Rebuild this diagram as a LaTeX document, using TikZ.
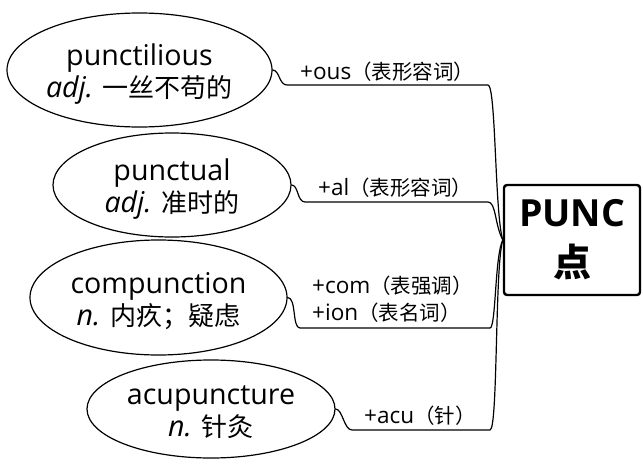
\documentclass[tikz,border=0pt]{standalone}
\usepackage{fontspec}
\setmainfont[Scale=1.1]{Open Sans}
\newfontfamily\cjk{Noto Sans CJK SC}
\usetikzlibrary{shapes.geometric,positioning}
\tikzset{
  every node/.style={inner sep=0pt},
  word/.style={ellipse, draw, line width=1.2pt, align=center,
    text height=62pt, text depth=7pt, font=\fontsize{26}{32}\selectfont},
  root/.style={draw, line width=2.4pt, rounded corners=3pt, align=center,
    minimum width=136, minimum height=110, font=\fontsize{34}{50}\selectfont\bfseries},
  affix/.style={anchor=base west, align=left, font=\fontsize{20.5}{27}\selectfont},
  link/.style={line width=1.2pt, line cap=round, line join=round}
}

\begin{document}
\begin{tikzpicture}[x=1pt,y=-1pt]
  \useasboundingbox (0,0) rectangle (643,469);

  % the root
  \node[root] (punc) at (572,240) {PUNC\\{\cjk\fontsize{38}{50}\selectfont 点}};

  % the words
  \node[word, minimum width=265, minimum height=114] (tilious) at (139.5,70)
    {punctilious\\\textit{adj.} {\cjk 一丝不苟的}};
  \node[word, minimum width=238, minimum height=104] (tual) at (172,185)
    {punctual\\\textit{adj.} {\cjk 准时的}};
  \node[word, minimum width=257, minimum height=115] (compunc) at (158.5,297.5)
    {compunction\\\textit{n.} {\cjk 内疚；疑虑}};
  \node[word, minimum width=248, minimum height=98] (acu) at (211,409)
    {acupuncture\\\textit{n.} {\cjk 针灸}};

  % branch ends
  \coordinate (s1) at (287,85);  \coordinate (t1) at (488,85);
  \coordinate (s2) at (305,202); \coordinate (t2) at (488,202);
  \coordinate (s3) at (300,328); \coordinate (t3) at (490,328);
  \coordinate (s4) at (352,430); \coordinate (t4) at (490,430);

  \draw[link] (tilious.east) .. controls +(7,0) and +(-8,0) .. (s1) -- (t1)
    .. controls +(8,0) and +(-8,-25) .. (punc.west);
  \draw[link] (tual.east) .. controls +(7,0) and +(-8,0) .. (s2) -- (t2)
    .. controls +(8,0) and +(-8,-15) .. (punc.west);
  \draw[link] (compunc.east) .. controls +(9,0) and +(-8,0) .. (s3) -- (t3)
    .. controls +(6,0) and +(-8,15) .. (punc.west);
  \draw[link] (acu.east) .. controls +(7,0) and +(-8,0) .. (s4) -- (t4)
    .. controls +(8,0) and +(-8,25) .. (punc.west);

  % affixes
  \node[affix] (ous) at (300,79) {+ous{\cjk （表形容词）}};
  \node[affix] (al) at (318,195) {+al{\cjk （表形容词）}};
  \node[affix] (com) at (312,293) {+com{\cjk （表强调）}};
  \node[affix] (ion) at (312,320) {+ion{\cjk （表名词）}};
  \node[affix] (acuaff) at (364,423) {+acu{\cjk （针）}};
\end{tikzpicture}
\end{document}
